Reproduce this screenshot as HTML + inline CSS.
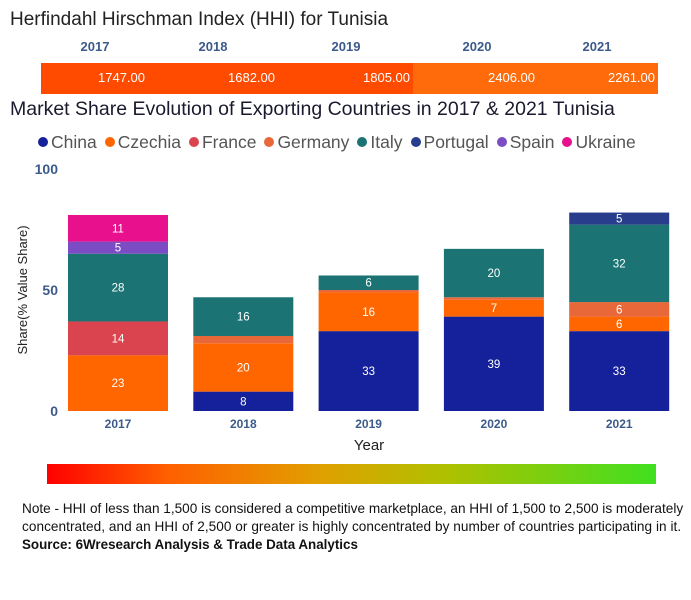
<!DOCTYPE html>
<html><head><meta charset="utf-8"><style>
body{margin:0;width:691px;height:600px;background:#fff;font-family:"Liberation Sans","DejaVu Sans",sans-serif;position:relative;overflow:hidden}
.a{position:absolute}
</style></head><body>
<div class="a" style="left:10px;top:9px;font-size:19px;color:#222">Herfindahl Hirschman Index (HHI) for Tunisia</div>
<div class="a" style="left:41px;top:63px;width:372px;height:31px;background:#ff4b00"></div>
<div class="a" style="left:413px;top:63px;width:245px;height:31px;background:#ff6a0a"></div>
<div id="hhi"></div>
<div class="a" style="left:10px;top:98px;font-size:19.5px;color:#1a1a2e">Market Share Evolution of Exporting Countries in 2017 &amp; 2021 Tunisia</div>
<div class="a" style="left:38px;top:132px;font-size:17.5px;color:#555;white-space:nowrap" id="legend"></div>
<svg class="a" style="left:0;top:0" width="691" height="460" id="chart"></svg>
<div class="a" style="left:47px;top:464px;width:609px;height:20px;background:linear-gradient(90deg,#ff0000,#ff6000 20%,#e0a000 45%,#b0c000 65%,#40e020 100%)"></div>
<div class="a" style="left:22px;top:500px;font-size:13.6px;line-height:18px;color:#111;white-space:nowrap">Note - HHI of less than 1,500 is considered a competitive marketplace, an HHI of 1,500 to 2,500 is moderately<br><span style="letter-spacing:0.05px">concentrated, and an HHI of 2,500 or greater is highly concentrated by number of countries participating in it.</span><br><b style="font-size:13.4px">Source: 6Wresearch Analysis &amp; Trade Data Analytics</b></div>
<script>
const hhiYears=["2017","2018","2019","2020","2021"];
const hhiValues=[1747,1682,1805,2406,2261];
const years=["2017","2018","2019","2020","2021"];
const countries=["China","Czechia","France","Germany","Italy","Portugal","Spain","Ukraine"];
const colors=["#14219a","#ff6600","#d9444f","#e8683a","#1b7373","#283e8c","#7c4cc4","#e8108c"];
const China=[0,8,33,39,33];
const Czechia=[23,20,16,7,6];
const France=[14,0,0,0,0];
const Germany=[0,3,1,1,6];
const Italy=[28,16,6,20,32];
const Portugal=[0,0,0,0,5];
const Spain=[5,0,0,0,0];
const Ukraine=[11,0,0,0,0];
const series=[China,Czechia,France,Germany,Italy,Portugal,Spain,Ukraine];
const yTicks=[0,50,100];
const hx=[95,213,346,477,597], hv=[145,275,410,535,655];
const hhi=document.getElementById('hhi');
hhiYears.forEach((y,i)=>{
 const d=document.createElement('div');d.className='a';
 
 
 d.style.cssText=`left:${hx[i]-30}px;width:60px;text-align:center;top:39px;font-size:13px;font-weight:bold;color:#3c5a8a`;d.textContent=y;hhi.appendChild(d);
 const v=document.createElement('div');v.className='a';
 
 
 v.style.cssText=`left:${hv[i]-100}px;width:100px;text-align:right;top:70px;font-size:13px;color:#fff`;v.textContent=hhiValues[i].toFixed(2);hhi.appendChild(v);
});
const lg=document.getElementById('legend');
countries.forEach((c,i)=>{
 const s=document.createElement('span');
 
 
 s.style.marginRight='8px';
 s.innerHTML=`<span style="display:inline-block;width:10px;height:10px;border-radius:50%;background:${colors[i]};margin-right:3px;vertical-align:1px"></span>${c}`;lg.appendChild(s);
});
const svg=document.getElementById('chart');const NS='http://www.w3.org/2000/svg';
const y0=411,ppu=2.42;const yS=v=>y0-v*ppu;const xC=i=>118+i*125.3;const bw=100;
function el(t,a,txt){const e=document.createElementNS(NS,t);for(const k in a)e.setAttribute(k,a[k]);if(txt!=null)e.textContent=txt;svg.appendChild(e);return e;}
yTicks.forEach(t=>{const e=el('text',{x:58,y:yS(t)+5,'text-anchor':'end','font-size':14,'font-weight':'bold',fill:'#3c5a8a'},t);

});
years.forEach((yr,i)=>{
 let base=0;
 series.forEach((s,k)=>{const v=s[i];if(!v)return;
  const r=el('rect',{x:xC(i)-bw/2,y:yS(base+v),width:bw,height:v*ppu,fill:colors[k]});
  
  
  if(v>=4){const t=el('text',{x:xC(i),y:yS(base+v/2)+4,'text-anchor':'middle','font-size':11.5,fill:'#fff'},v);
  
  }
  base+=v;});
 const t=el('text',{x:xC(i),y:428,'text-anchor':'middle','font-size':12,'font-weight':'bold',fill:'#3c5a8a'},yr);
 
 
});
const xt=el('text',{x:369,y:450,'text-anchor':'middle','font-size':15,fill:'#222'},'Year');


const yt=el('text',{x:0,y:0,transform:'translate(27,290) rotate(-90)','text-anchor':'middle','font-size':13,fill:'#222'},'Share(% Value Share)');


</script>
</body></html>
